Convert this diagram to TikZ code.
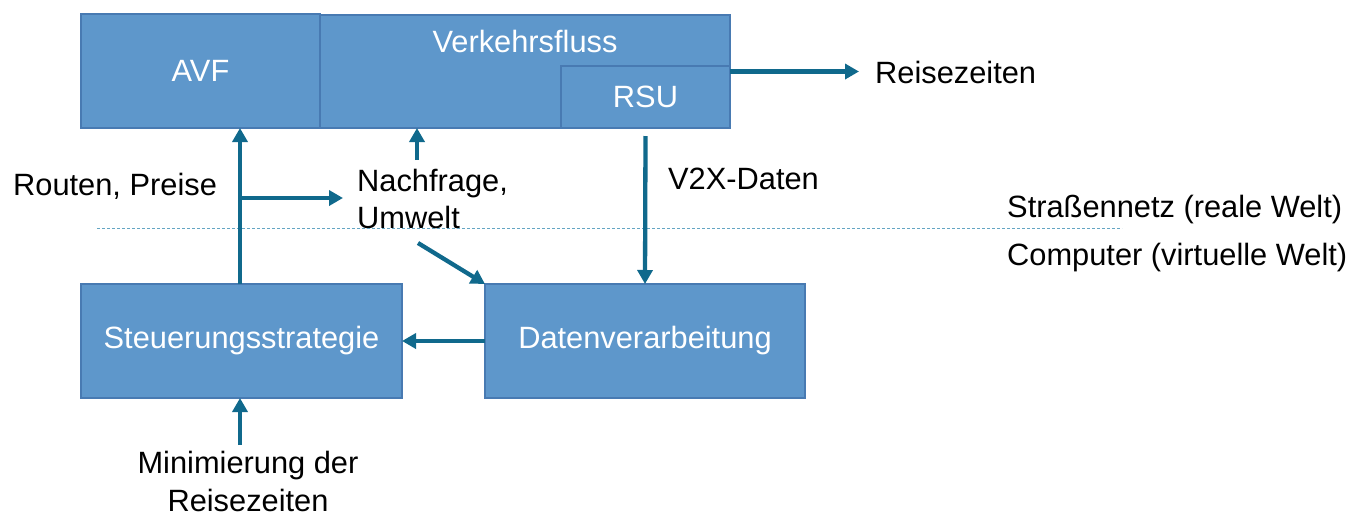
\documentclass[tikz,border=0pt]{standalone}
\usepackage{fontspec}
\setmainfont{Liberation Sans}
\usetikzlibrary{arrows.meta}
\definecolor{boxfill}{RGB}{94,151,203}
\definecolor{boxline}{RGB}{72,122,178}
\definecolor{arrowcol}{RGB}{16,105,140}
\definecolor{dotcol}{RGB}{100,165,195}
\tikzset{
  blk/.style={draw=boxline, line width=1.5pt, fill=boxfill, inner sep=0pt, outer sep=0pt},
  blktext/.style={text=white, font=\fontsize{30.8}{36}\selectfont, inner sep=0pt},
  lbl/.style={text=black, font=\fontsize{30.8}{36.5}\selectfont, inner sep=0pt},
  conn/.style={draw=arrowcol, line width=4.3pt, -{Triangle[length=14pt,width=15pt]}},
  sepline/.style={draw=dotcol, line width=1pt, dash pattern=on 3pt off 2pt}
}
\begin{document}
\begin{tikzpicture}[x=1pt,y=-1pt]
\useasboundingbox (0,0) rectangle (1353,515);
% boxes
\node[blk, minimum width=239pt, minimum height=114pt] (avf) at (200.5,71) {};
\node[blktext] (avft) at (avf.center) {AVF};
\node[blk, minimum width=410pt, minimum height=113pt] (vf) at (525,71.5) {};
\node[blktext, anchor=base] (vft) at (525,52) {Verkehrsfluss};
\node[blk, minimum width=169pt, minimum height=62pt] (rsu) at (645.5,97) {};
\node[blktext] (rsut) at (rsu.center) {RSU};
\node[blk, minimum width=321pt, minimum height=114pt] (st) at (241.5,341) {};
\node[blktext] (stt) at (st.center) {Steuerungsstrategie};
\node[blk, minimum width=320pt, minimum height=114pt] (dv) at (645,341) {};
\node[blktext] (dvt) at (dv.center) {Datenverarbeitung};
% labels
\node[lbl, anchor=base west] (rp) at (13,195) {Routen, Preise};
\node[lbl, anchor=base west, align=left] (nach) at (357,228) {Nachfrage,\\Umwelt};
\node[lbl, anchor=base west] (v2x) at (668,189) {V2X-Daten};
\node[lbl, anchor=base west] (rz) at (875,83) {Reisezeiten};
\node[lbl, anchor=base west] (real) at (1007,217) {Straßennetz (reale Welt)};
\node[lbl, anchor=base west] (virt) at (1007,265) {Computer (virtuelle Welt)};
\node[lbl, font=\fontsize{30.8}{37.5}\selectfont, anchor=base, align=center] (mini) at (248,511) {Minimierung der\\Reisezeiten};
% separator
\coordinate (dl1) at (97,228);
\coordinate (dl2) at (1122,228);
\draw[sepline] (dl1) -- (dl2);
% connectors
\coordinate (stup) at (240,284);
\coordinate (br) at (240,198);
\draw[conn] (stup) -- (stup |- avf.south);
\draw[conn] (br) -- ([xshift=-14pt]nach.west |- br);
\coordinate (n1) at (417,160);
\draw[conn] (n1) -- (n1 |- vf.south);
\coordinate (n2) at (418,243);
\draw[conn] (n2) -- (dv.north west);
\draw[conn] ([yshift=-8pt]rsu.south) -- (dv.north);
\draw[conn] (dv.west) -- (st.east);
\coordinate (m1) at (240,445);
\draw[conn] (m1) -- (m1 |- st.south);
\draw[conn] (vf.east) -- ([xshift=-16pt]rz.west |- vf.east);
\end{tikzpicture}
\end{document}
